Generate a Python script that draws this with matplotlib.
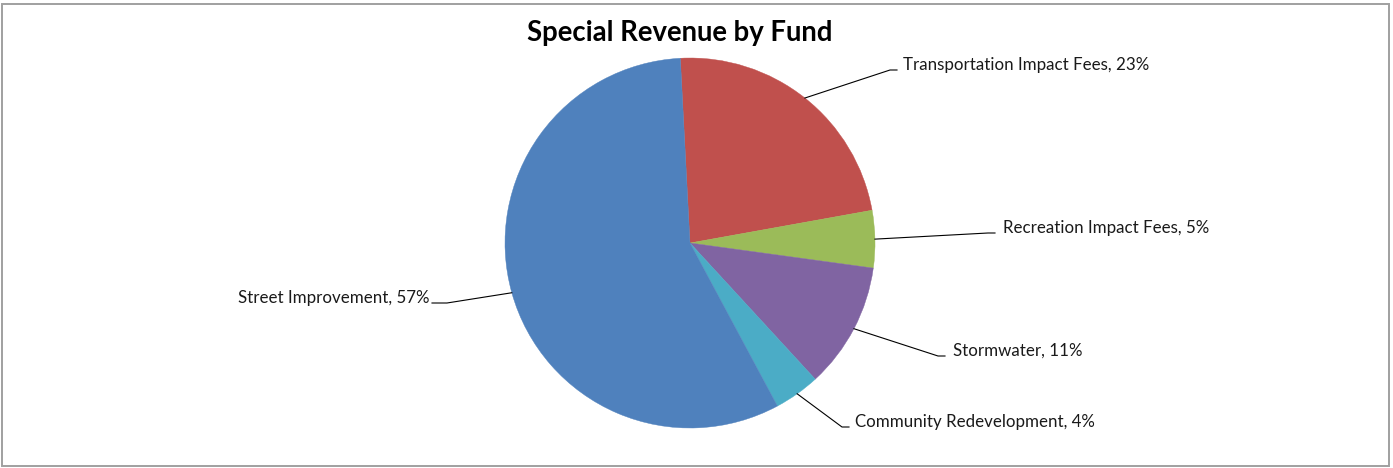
import numpy as np
import matplotlib.pyplot as plt
from matplotlib.patches import Rectangle

# fund shares (%) in drawing order, clockwise from the top
funds = ['Transportation Impact Fees', 'Recreation Impact Fees', 'Stormwater',
         'Community Redevelopment', 'Street Improvement']
shares = [23, 5, 11, 4, 57]
colors = ['#C0504D', '#9BBB59', '#8064A2', '#4BACC6', '#4F81BD']

W, H = 1393, 468
cx, cy, r = 690, H - 243, 185

# label layout in pixels (y from top): elbow point, text x, alignment
elbows = [(890, 70), (988, 233), (938, 356), (842, 427), (447, 303)]
text_x = [903, 1003, 953, 855, 429]
aligns = ['left', 'left', 'left', 'left', 'right']

fig = plt.figure(figsize=(W / 100, H / 100), dpi=100)
ax = fig.add_axes([0, 0, 1, 1])

wedges, _ = ax.pie(shares, colors=colors, startangle=93, counterclock=False,
                   center=(cx, cy), radius=r,
                   wedgeprops=dict(linewidth=0.3))
for w in wedges:
    w.set_edgecolor(w.get_facecolor())
ax.set_xlim(0, W)
ax.set_ylim(0, H)
ax.set_aspect('equal')
ax.axis('off')

font = 'Lato'
for w, name, val, (ex, ey), tx, ha in zip(wedges, funds, shares, elbows, text_x, aligns):
    mid = np.deg2rad((w.theta1 + w.theta2) / 2)
    px, py = cx + r * np.cos(mid), cy + r * np.sin(mid)
    ey = H - ey
    hx = ex + 7 if ha == 'left' else ex - 15
    ax.plot([px, ex, hx], [py, ey, ey], color='black', lw=0.8)
    ax.text(tx, ey, f'{name}, {val}%', ha=ha, va='baseline',
            fontsize=12.2, family=font, color='#1a1a1a')

ax.text(680, H - 41, 'Special Revenue by Fund', ha='center', va='baseline',
        fontsize=19.8, fontweight='bold', family=font)

# chart border
fig.patches.append(Rectangle((2, 2), 1387, 462, transform=None, fill=False,
                             edgecolor='#a0a0a0', lw=1.4))

fig.savefig('out.png', dpi=100, facecolor='white')
